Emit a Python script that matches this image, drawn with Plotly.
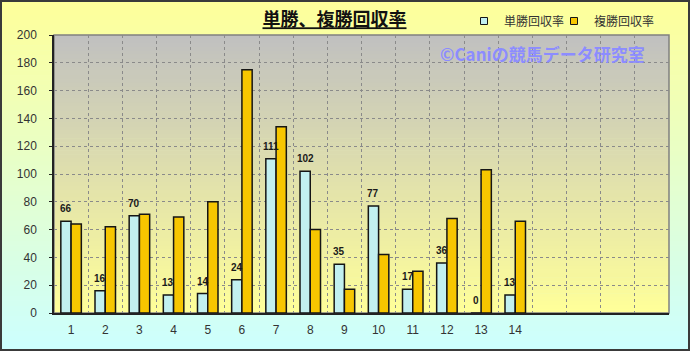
import plotly.graph_objects as go

# ---- data ----
race_no = list(range(1, 15))
tick_labels = [str(i) for i in race_no]
tansho = [66, 16, 70, 13, 14, 24, 111, 102, 35, 77, 17, 36, 0, 13]
fukusho = [64, 62, 71, 69, 80, 175, 134, 60, 17, 42, 30, 68, 103, 66]
series_names = ["単勝回収率", "複勝回収率"]
title_text = "単勝、複勝回収率"
watermark = "©Caniの競馬データ研究室"

# ---- geometry / style ----
W, H = 690, 351
L, R, T, B = 54, 21, 35, 38
pw, ph = W - L - R, H - T - B


def px(x):
    return (x - L) / pw


def py(y):
    return 1 - (y - T) / ph


def lerp(c1, c2, t):
    return "rgb({},{},{})".format(*[round(a + (b - a) * t) for a, b in zip(c1, c2)])


BLUE = "#C2F0F0"
GOLD = "#F7C600"
EDGE = "#151515"
FONT = "Liberation Sans, Arial, sans-serif"
JFONT = "Noto Sans CJK JP, sans-serif"
BARGAP = 0.4
N_SLOTS = 18

shapes = []
# outer background gradient (light yellow -> light cyan)
n = 70
for i in range(n):
    y0 = i * H / n
    y1 = (i + 1) * H / n + 0.6
    shapes.append(dict(type="rect", xref="paper", yref="paper",
                       x0=px(0), x1=px(W), y0=py(y0), y1=py(y1),
                       fillcolor=lerp((255, 255, 153), (204, 255, 255), (i + 0.5) / n),
                       line=dict(width=0), layer="below"))
# plot area gradient (gray -> light yellow)
for i in range(n):
    y0 = T + i * ph / n
    y1 = T + (i + 1) * ph / n + 0.6
    shapes.append(dict(type="rect", xref="paper", yref="paper",
                       x0=0, x1=1, y0=py(y0), y1=py(min(y1, T + ph)),
                       fillcolor=lerp((192, 192, 192), (255, 255, 153), (i + 0.5) / n),
                       line=dict(width=0), layer="below"))
# plot frame
shapes.append(dict(type="rect", xref="paper", yref="paper", x0=0, x1=1, y0=0, y1=1,
                   line=dict(color="#808080", width=1.5), layer="below"))
# outer border
shapes.append(dict(type="rect", xref="paper", yref="paper",
                   x0=px(1), x1=px(W - 1), y0=py(H - 1), y1=py(1),
                   line=dict(color="#3a3a3a", width=2), layer="above"))

fig = go.Figure()
fig.add_trace(go.Bar(
    x=race_no, y=tansho, name=series_names[0], showlegend=False,
    marker=dict(color=BLUE, line=dict(color=EDGE, width=1.5)),
))
fig.add_trace(go.Bar(
    x=race_no, y=fukusho, name=series_names[1], showlegend=False,
    marker=dict(color=GOLD, line=dict(color=EDGE, width=1.5)),
))
# legend entries (one legend per series so each can be placed like the original)
for nm, col, lg in zip(series_names, [BLUE, GOLD], ["legend", "legend2"]):
    fig.add_trace(go.Scatter(
        x=[None], y=[None], mode="markers", name=nm, legend=lg,
        marker=dict(symbol="square", size=7, color=col, line=dict(color=EDGE, width=1)),
    ))

# value labels above the 単勝 bars
slot_px = pw / N_SLOTS
bar_shift = -(1 - BARGAP) / 4 * slot_px
annotations = [dict(x=xv, y=yv, xref="x", yref="y", text="<b>%d</b>" % yv, showarrow=False,
                    xanchor="center", yanchor="bottom", xshift=bar_shift, yshift=5,
                    font=dict(family=FONT, size=10, color="#1a1a1a"))
               for xv, yv in zip(race_no, tansho)]
annotations.append(dict(text="<b>" + watermark + "</b>", x=px(542), y=py(53), xref="paper", yref="paper",
                        xanchor="center", yanchor="middle", showarrow=False,
                        font=dict(family=JFONT, size=17, color="#8C8CFF")))

legend_common = dict(orientation="h", xanchor="left", y=py(21), yanchor="middle",
                     font=dict(family=JFONT, size=12, color="#333"), bgcolor="rgba(0,0,0,0)")

fig.update_layout(
    width=W, height=H,
    margin=dict(l=L, r=R, t=T, b=B, autoexpand=False),
    paper_bgcolor="#E6FFCC",
    plot_bgcolor="rgba(0,0,0,0)",
    barmode="group", bargap=BARGAP, bargroupgap=0,
    shapes=shapes,
    title=dict(text="<b><u>" + title_text + "</u></b>", x=px(334.5), xref="paper", xanchor="center",
               y=1 - 20 / H, yref="container", yanchor="middle",
               font=dict(family=JFONT, size=18, color="#111")),
    legend=dict(x=px(464), **legend_common),
    legend2=dict(x=px(554), **legend_common),
    annotations=annotations,
    xaxis=dict(range=[0.5, N_SLOTS + 0.5], tickmode="array", tickvals=race_no, ticktext=tick_labels,
               showgrid=False, zeroline=False, showline=True, linecolor="#222", linewidth=1.5,
               ticks="", ticklabelstandoff=5,
               tickfont=dict(family=FONT, size=12, color="#333"),
               minor=dict(tickmode="linear", tick0=0.5, dtick=1, showgrid=True,
                          gridcolor="#8a8a8a", griddash="dot", gridwidth=1, ticks="")),
    yaxis=dict(range=[0, 200], dtick=20, tick0=0, showgrid=True, gridcolor="#8a8a8a",
               griddash="dot", gridwidth=1, zeroline=False, showline=True, linecolor="#222",
               linewidth=1.5, ticks="outside", ticklen=3, tickcolor="#222", ticklabelstandoff=10,
               tickfont=dict(family=FONT, size=12, color="#333")),
)

fig.write_html("out.html")
